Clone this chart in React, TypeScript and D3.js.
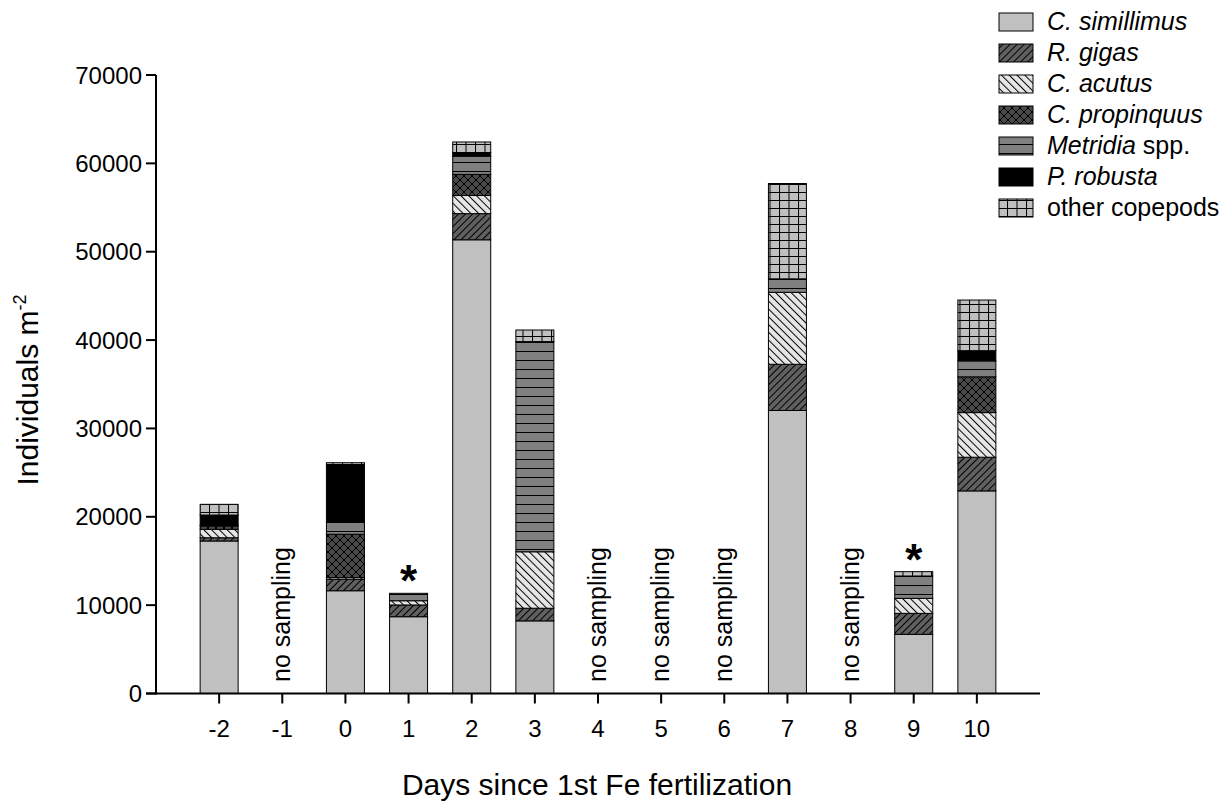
import React from "react";
import * as d3 from "d3";

// Copepod abundance per sampling day (individuals per m²)
const sampledDays = [-2, 0, 1, 2, 3, 7, 9, 10];
const cSimillimus = [17260, 11630, 8690, 51350, 8220, 32030, 6700, 22930];
const rGigas = [370, 1290, 1330, 2960, 1430, 5230, 2370, 3810];
const cAcutus = [950, 190, 480, 2050, 6390, 8140, 1700, 5050];
const cPropinquus = [380, 4910, 0, 2390, 0, 0, 0, 4050];
const metridia = [110, 1420, 840, 2060, 23790, 1530, 2530, 1800];
const pRobusta = [1130, 6420, 0, 420, 0, 0, 0, 1160];
const otherCopepods = [1210, 260, 0, 1190, 1310, 10790, 490, 5730];

const allDays = [-2, -1, 0, 1, 2, 3, 4, 5, 6, 7, 8, 9, 10];
const noSamplingDays = [-1, 4, 5, 6, 8];
const starDays = [1, 9];
const yTicks = [0, 10000, 20000, 30000, 40000, 50000, 60000, 70000];

const seriesKeys = ["sim", "gig", "acu", "pro", "met", "rob", "oth"];
const seriesValues = [cSimillimus, rGigas, cAcutus, cPropinquus, metridia, pRobusta, otherCopepods];
const legendItems = [
  { key: "sim", italic: "C. simillimus", plain: "" },
  { key: "gig", italic: "R. gigas", plain: "" },
  { key: "acu", italic: "C. acutus", plain: "" },
  { key: "pro", italic: "C. propinquus", plain: "" },
  { key: "met", italic: "Metridia", plain: " spp." },
  { key: "rob", italic: "P. robusta", plain: "" },
  { key: "oth", italic: "", plain: "other copepods" },
];

const fills: Record<string, string> = {
  sim: "#c0c0c0",
  gig: "url(#p-gig)",
  acu: "url(#p-acu)",
  pro: "url(#p-pro)",
  met: "url(#p-met)",
  rob: "#000000",
  oth: "url(#p-oth)",
};

const FONT = "'Liberation Sans', Arial, sans-serif";

export default function App() {
  const W = 1228;
  const H = 803;
  const x = d3.scaleLinear().domain([-3, 11]).range([156, 1040]);
  const y = d3.scaleLinear().domain([0, 70000]).range([693.5, 75]);
  const barW = 38;

  const rows = sampledDays.map((d, i) => {
    const r: Record<string, number> = { day: d };
    seriesKeys.forEach((k, j) => (r[k] = seriesValues[j][i]));
    return r;
  });
  const stacked = d3.stack<Record<string, number>>().keys(seriesKeys)(rows);

  const legX = 999;
  const legY0 = 13;
  const legStep = 31;

  return (
    <div style={{ position: "absolute", left: 0, top: 0 }}>
      <svg width={W} height={H} style={{ display: "block", background: "#fff" }} fontFamily={FONT}>
        <defs>
          <pattern id="p-gig" patternUnits="userSpaceOnUse" width={5} height={5} patternTransform="rotate(45)">
            <rect width={5} height={5} fill="#606060" />
            <line x1={0.5} y1={0} x2={0.5} y2={5} stroke="#000" strokeWidth={1} />
          </pattern>
          <pattern id="p-acu" patternUnits="userSpaceOnUse" width={5.5} height={5.5} patternTransform="rotate(-45)">
            <rect width={5.5} height={5.5} fill="#e6e6e6" />
            <line x1={0.5} y1={0} x2={0.5} y2={5.5} stroke="#000" strokeWidth={1} />
          </pattern>
          <pattern id="p-pro" patternUnits="userSpaceOnUse" width={8} height={8}>
            <rect width={8} height={8} fill="#4a4a4a" />
            <path d="M0,0L8,8M8,0L0,8" stroke="#000" strokeWidth={1} />
          </pattern>
          <pattern id="p-met" patternUnits="userSpaceOnUse" width={10} height={9}>
            <rect width={10} height={9} fill="#808080" />
            <line x1={0} y1={0.5} x2={10} y2={0.5} stroke="#000" strokeWidth={1} />
          </pattern>
          <pattern id="p-oth" patternUnits="userSpaceOnUse" width={9.5} height={8}>
            <rect width={9.5} height={8} fill="#c0c0c0" />
            <line x1={0} y1={0.5} x2={9.5} y2={0.5} stroke="#000" strokeWidth={1} />
            <line x1={0.5} y1={0} x2={0.5} y2={8} stroke="#000" strokeWidth={1} />
          </pattern>
        </defs>

        {/* stacked bars */}
        {stacked.map((layer) => (
          <g key={layer.key}>
            {layer.map((seg, i) => {
              const h = y(seg[0]) - y(seg[1]);
              if (h <= 0) return null;
              return (
                <rect
                  key={i}
                  x={x(sampledDays[i]) - barW / 2}
                  y={y(seg[1])}
                  width={barW}
                  height={h}
                  fill={fills[layer.key]}
                  stroke="#000"
                  strokeWidth={1}
                />
              );
            })}
          </g>
        ))}

        {/* days without samples */}
        {noSamplingDays.map((d) => (
          <text
            key={d}
            transform={`translate(${x(d) + 8},682) rotate(-90)`}
            fontSize={25}
            fill="#000"
          >
            no sampling
          </text>
        ))}

        {/* asterisks */}
        {starDays.map((d) => {
          const i = sampledDays.indexOf(d);
          const top = d3.sum(seriesValues, (s) => s[i]);
          return (
            <text key={d} x={x(d)} y={y(top) + 3} textAnchor="middle" fontSize={44} fontWeight="bold">
              *
            </text>
          );
        })}

        {/* y axis */}
        <line x1={156} y1={y(70000)} x2={156} y2={y(0) + 1} stroke="#000" strokeWidth={2} />
        {yTicks.map((t) => (
          <g key={t}>
            <line x1={146} x2={156} y1={y(t)} y2={y(t)} stroke="#000" strokeWidth={2} />
            <text x={142} y={y(t) + 8.5} textAnchor="end" fontSize={24}>
              {t}
            </text>
          </g>
        ))}

        {/* x axis */}
        <line x1={146} y1={y(0)} x2={x(11)} y2={y(0)} stroke="#000" strokeWidth={2} />
        {allDays.map((d) => (
          <g key={d}>
            <line x1={x(d)} x2={x(d)} y1={y(0)} y2={y(0) + 10} stroke="#000" strokeWidth={2} />
            <text x={x(d)} y={737} textAnchor="middle" fontSize={24}>
              {d}
            </text>
          </g>
        ))}

        {/* axis titles */}
        <text x={597} y={795} textAnchor="middle" fontSize={30}>
          Days since 1st Fe fertilization
        </text>
        <text transform="translate(38,390) rotate(-90)" textAnchor="middle" fontSize={30}>
          Individuals m<tspan dy={-12} fontSize={18}>-2</tspan>
        </text>

        {/* legend */}
        {legendItems.map((it, i) => {
          const ty = legY0 + i * legStep;
          return (
            <g key={it.key}>
              <rect x={legX} y={ty} width={34} height={18} fill={fills[it.key]} stroke="#000" strokeWidth={1} />
              <text x={1047} y={ty + 17} fontSize={25}>
                {it.italic && <tspan fontStyle="italic">{it.italic}</tspan>}
                {it.plain && <tspan>{it.plain}</tspan>}
              </text>
            </g>
          );
        })}
      </svg>
    </div>
  );
}
